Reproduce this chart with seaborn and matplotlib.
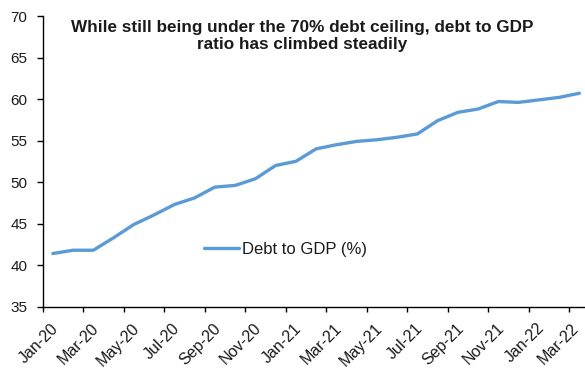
import matplotlib
matplotlib.use("Agg")
import matplotlib.pyplot as plt
import matplotlib.transforms as mtransforms
import seaborn as sns
import pandas as pd
from matplotlib.ticker import FixedLocator, NullFormatter

months = ["Jan-20", "Feb-20", "Mar-20", "Apr-20", "May-20", "Jun-20", "Jul-20",
          "Aug-20", "Sep-20", "Oct-20", "Nov-20", "Dec-20", "Jan-21", "Feb-21",
          "Mar-21", "Apr-21", "May-21", "Jun-21", "Jul-21", "Aug-21", "Sep-21",
          "Oct-21", "Nov-21", "Dec-21", "Jan-22", "Feb-22", "Mar-22"]
debt_to_gdp = [41.4, 41.8, 41.8, 43.3, 44.9, 46.05, 47.3, 48.1, 49.4, 49.6,
               50.4, 52.0, 52.5, 54.0, 54.5, 54.9, 55.1, 55.4, 55.8, 57.4,
               58.4, 58.8, 59.7, 59.6, 59.9, 60.2, 60.7]
series_name = "Debt to GDP (%)"
title = "While still being under the 70% debt ceiling, debt to GDP\nratio has climbed steadily"
y_ticks = [35, 40, 45, 50, 55, 60, 65, 70]

sns.set_theme(style="white")
plt.rcParams['font.family'] = ['Liberation Sans', 'DejaVu Sans']

W, H = 585, 369
fig = plt.figure(figsize=(W / 100, H / 100), dpi=100)
left_px, right_px, top_px, bottom_px = 42.7, 589.5, 16.0, 306.7
ax = fig.add_axes([left_px / W, 1 - bottom_px / H,
                   (right_px - left_px) / W, (bottom_px - top_px) / H])

df = pd.DataFrame({"month": months, "value": debt_to_gdp})
sns.lineplot(data=df, x="month", y="value", ax=ax, color="#5B9BD5",
             linewidth=2.4, label=series_name, sort=False)

n = len(months)
ax.set_xlim(-0.5, n - 0.5)
ax.set_ylim(35, 70)
ax.set_yticks(y_ticks)
ax.set_yticklabels([str(v) for v in y_ticks])

label_pos = list(range(0, n, 2))
ax.set_xticks(label_pos)
ax.set_xticklabels([months[i] for i in label_pos], rotation=45, ha="right",
                   rotation_mode="anchor")
ax.xaxis.set_minor_locator(FixedLocator([i - 0.5 for i in range(0, n + 1, 2)]))
ax.xaxis.set_minor_formatter(NullFormatter())
ax.tick_params(axis="x", which="major", length=0, pad=10, labelsize=11.5,
               colors="black")
ax.tick_params(axis="x", which="minor", length=3.5, width=1, color="black",
               direction="out", bottom=True)
ax.tick_params(axis="y", which="major", length=4, width=1, color="black",
               direction="out", left=True, labelsize=11, pad=7)
xlabels = ax.get_xticklabels()
for i, lbl in enumerate(xlabels):
    dx = -8 if i == len(xlabels) - 1 else -2
    shift = mtransforms.ScaledTranslation(dx / 100, 0, fig.dpi_scale_trans)
    lbl.set_transform(lbl.get_transform() + shift)
    lbl.set_color("#1a1a1a")
for lbl in ax.get_yticklabels():
    lbl.set_color("#1a1a1a")

for s in ["top", "right"]:
    ax.spines[s].set_visible(False)
for s in ["left", "bottom"]:
    ax.spines[s].set_color("black")
    ax.spines[s].set_linewidth(1.0)
ax.set_xlabel("")
ax.set_ylabel("")
ax.grid(False)

leg = ax.legend(loc="center left", bbox_to_anchor=(204 / W, 1 - 249.5 / H),
                bbox_transform=fig.transFigure, frameon=False, fontsize=12,
                handlelength=2.1, handletextpad=0.18, borderpad=0,
                borderaxespad=0)
for t in leg.get_texts():
    t.set_color("#1a1a1a")

fig.text(302 / W, 1 - 36 / H, title, ha="center", va="center",
         fontsize=12.3, fontweight="bold", color="#1a1a1a", linespacing=1.2)

fig.savefig("out.png", dpi=100)
